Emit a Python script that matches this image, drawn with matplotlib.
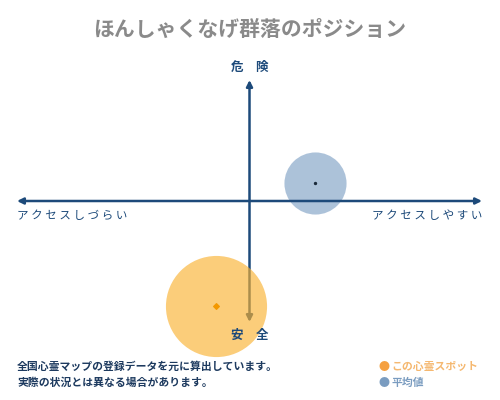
import matplotlib.pyplot as plt

plt.rcParams['font.family'] = ['Noto Sans CJK JP', 'DejaVu Sans']

title = 'ほんしゃくなげ群落のポジション'
top_label = '危　険'
bottom_label = '安　全'
left_label = 'アクセスしづらい'
right_label = 'アクセスしやすい'
notes = ['全国心霊マップの登録データを元に算出しています。',
         '実際の状況とは異なる場合があります。']
legend_labels = ['この心霊スポット', '平均値']

# position on the access (x) / danger (y) plane, range -1..1
spot_x, spot_y = -0.144, -0.868
avg_x, avg_y = 0.282, 0.149

navy = '#1d4a7a'
orange = '#f9b233'
blue = '#5b86b5'


def spaced(s):
    return ' '.join(s)


fig = plt.figure(figsize=(5, 4), dpi=100)
fig.text(0.5, 0.927, title, ha='center', va='center', fontsize=15,
         fontweight='bold', color='#8a8a8a')

# plot area: x 17..482 px, y 80..322 px
ax = fig.add_axes([17 / 500, 1 - 322 / 400, 465 / 500, 242 / 400])
ax.set_xlim(-1, 1)
ax.set_ylim(-1, 1)
ax.axis('off')

arrow = dict(arrowstyle='<|-|>', color=navy, lw=1.8, mutation_scale=9,
             shrinkA=0, shrinkB=0)
ax.annotate('', xy=(1, 0), xytext=(-1, 0), arrowprops=arrow, zorder=2)
ax.annotate('', xy=(0, -1), xytext=(0, 1), arrowprops=arrow, zorder=2)

ax.scatter([avg_x], [avg_y], s=2000, color=blue, alpha=0.5, lw=0, zorder=1,
           clip_on=False)
ax.scatter([avg_x], [avg_y], s=2, color='#1a2a3a', zorder=4)
ax.scatter([spot_x], [spot_y], s=5300, color=orange, alpha=0.65, lw=0, zorder=3,
           clip_on=False)
ax.scatter([spot_x], [spot_y], s=8, color='#f39800', marker='D', zorder=4)

fig.text(0.5, 1 - 67 / 400, top_label, ha='center', va='center',
         fontsize=9, fontweight='bold', color=navy)
fig.text(0.5, 1 - 335 / 400, bottom_label, ha='center', va='center',
         fontsize=9, fontweight='bold', color=navy, zorder=5)
fig.text(17 / 500, 1 - 216 / 400, spaced(left_label), ha='left', va='center',
         fontsize=8.3, color=navy)
fig.text(482 / 500, 1 - 216 / 400, spaced(right_label), ha='right', va='center',
         fontsize=8.3, color=navy)

for i, line in enumerate(notes):
    fig.text(17 / 500, 1 - (367 + 16 * i) / 400, line, ha='left', va='center',
             fontsize=7.8, fontweight='bold', color='#1d3a5f')

fig.text(384 / 500, 1 - 367 / 400, '●', ha='center', va='center',
         fontsize=8, color='#f5a040')
fig.text(391 / 500, 1 - 367 / 400, legend_labels[0], ha='left', va='center',
         fontsize=7.8, fontweight='bold', color='#f5b870')
fig.text(384 / 500, 1 - 383 / 400, '●', ha='center', va='center',
         fontsize=8, color='#7a9cc0')
fig.text(391 / 500, 1 - 383 / 400, legend_labels[1], ha='left', va='center',
         fontsize=7.8, fontweight='bold', color='#7a9cc0')

fig.savefig('out.png', dpi=100)
